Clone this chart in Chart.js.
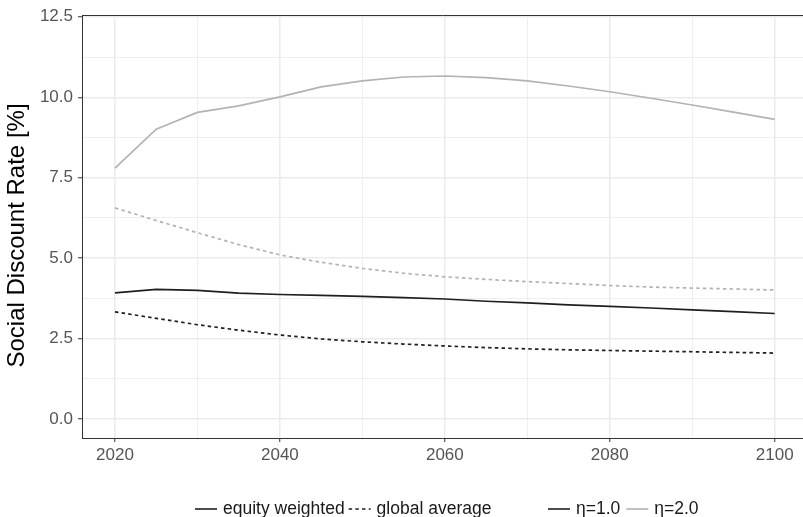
<!DOCTYPE html>
<html>
<head>
<meta charset="utf-8">
<script src="https://cdn.jsdelivr.net/npm/chart.js@4/dist/chart.umd.min.js"></script>
<style>
  html, body { margin: 0; padding: 0; background: #fff; overflow: hidden; }
  #wrap { width: 803px; height: 517px; position: relative; }
</style>
</head>
<body>
<div id="wrap"><canvas id="c"></canvas></div>
<script>
// ---- data ----
const years = [2020, 2025, 2030, 2035, 2040, 2045, 2050, 2055, 2060, 2065, 2070, 2075, 2080, 2085, 2090, 2095, 2100];
const equityWeightedEta1 = [3.92, 4.03, 4.00, 3.91, 3.87, 3.84, 3.81, 3.77, 3.73, 3.66, 3.61, 3.55, 3.50, 3.45, 3.39, 3.34, 3.28];
const globalAverageEta1  = [3.33, 3.13, 2.93, 2.76, 2.61, 2.49, 2.40, 2.33, 2.27, 2.22, 2.18, 2.15, 2.13, 2.11, 2.09, 2.07, 2.05];
const equityWeightedEta2 = [7.80, 9.01, 9.53, 9.73, 10.01, 10.32, 10.51, 10.63, 10.66, 10.61, 10.51, 10.35, 10.17, 9.97, 9.76, 9.54, 9.31];
const globalAverageEta2  = [6.56, 6.17, 5.79, 5.42, 5.10, 4.87, 4.68, 4.53, 4.42, 4.34, 4.27, 4.21, 4.15, 4.10, 4.07, 4.04, 4.01];

const xMajorTicks = [2020, 2040, 2060, 2080, 2100];
const xMinorTicks = [2030, 2050, 2070, 2090];
const yMajorTicks = [0, 2.5, 5, 7.5, 10, 12.5];
const yMinorTicks = [1.25, 3.75, 6.25, 8.75, 11.25];

const yTitle = 'Social Discount Rate [%]';
const linetypeLegend = ['equity weighted', 'global average'];
const colorLegend = ['η=1.0', 'η=2.0'];

// ---- styles ----
const DARK = '#1f1f1f';
const LIGHT = '#b3b3b3';
const DOT = [3.5, 3.2];
const FONT = '"Liberation Sans", Arial, Helvetica, sans-serif';

const toPts = arr => years.map((yr, i) => ({ x: yr, y: arr[i] }));

function mkTicks(major, minor) {
  return [...major, ...minor].sort((a, b) => a - b).map(v => ({ value: v }));
}
const isMajor = (list, v) => list.some(m => Math.abs(m - v) < 1e-9);

const topBorder = {
  id: 'topBorder',
  afterDraw(chart) {
    const { ctx, chartArea } = chart;
    ctx.save();
    ctx.strokeStyle = '#333333';
    ctx.lineWidth = 1;
    ctx.beginPath();
    ctx.moveTo(chartArea.left, Math.round(chartArea.top) + 0.5);
    ctx.lineTo(chartArea.right, Math.round(chartArea.top) + 0.5);
    ctx.stroke();
    ctx.restore();
  }
};

const yTitlePlugin = {
  id: 'yTitlePlugin',
  afterDraw(chart) {
    const { ctx } = chart;
    ctx.save();
    ctx.translate(17, 235.5);
    ctx.rotate(-Math.PI / 2);
    ctx.font = '24px ' + FONT;
    ctx.fillStyle = '#000000';
    ctx.textAlign = 'center';
    ctx.textBaseline = 'middle';
    ctx.fillText(yTitle, 0, 0);
    ctx.restore();
  }
};

const customLegend = {
  id: 'customLegend',
  afterDraw(chart) {
    const { ctx } = chart;
    ctx.save();
    ctx.font = '17.5px ' + FONT;
    ctx.fillStyle = '#1a1a1a';
    ctx.textBaseline = 'middle';
    ctx.textAlign = 'left';
    const y = 509;
    const lineLen = 22, gapAfterLine = 6, gapAfterText = 4;
    function item(x, color, dash, label) {
      ctx.save();
      ctx.strokeStyle = color;
      ctx.lineWidth = 1.6;
      ctx.setLineDash(dash);
      ctx.beginPath();
      ctx.moveTo(x, y);
      ctx.lineTo(x + lineLen, y);
      ctx.stroke();
      ctx.restore();
      const tx = x + lineLen + gapAfterLine;
      ctx.fillText(label, tx, y);
      return tx + ctx.measureText(label).width + gapAfterText;
    }
    let x = 195;
    x = item(x, DARK, [], linetypeLegend[0]);
    item(x, DARK, DOT, linetypeLegend[1]);
    x = 548;
    x = item(x, DARK, [], colorLegend[0]);
    item(x + 2, LIGHT, [], colorLegend[1]);
    ctx.restore();
  }
};

const common = { fill: false, pointRadius: 0, pointHoverRadius: 0, borderWidth: 1.7, tension: 0 };

new Chart(document.getElementById('c'), {
  type: 'line',
  data: {
    datasets: [
      { ...common, label: 'equity weighted η=2.0', data: toPts(equityWeightedEta2), borderColor: LIGHT },
      { ...common, label: 'global average η=2.0', data: toPts(globalAverageEta2), borderColor: LIGHT, borderDash: DOT },
      { ...common, label: 'equity weighted η=1.0', data: toPts(equityWeightedEta1), borderColor: DARK },
      { ...common, label: 'global average η=1.0', data: toPts(globalAverageEta1), borderColor: DARK, borderDash: DOT }
    ]
  },
  options: {
    responsive: true,
    maintainAspectRatio: false,
    animation: false,
    devicePixelRatio: 1,
    layout: { padding: { top: 15, left: 0, right: 0, bottom: 49 } },
    plugins: { legend: { display: false }, tooltip: { enabled: false } },
    events: [],
    scales: {
      x: {
        type: 'linear',
        min: 2016,
        max: 2103.43,
        afterBuildTicks: s => { s.ticks = mkTicks(xMajorTicks, xMinorTicks); },
        afterFit: s => { s.height = 30; },
        ticks: {
          autoSkip: false,
          maxRotation: 0,
          padding: 3,
          color: '#555555',
          font: { family: FONT, size: 17 },
          callback: v => isMajor(xMajorTicks, v) ? String(v) : ''
        },
        grid: {
          color: '#ebebeb',
          lineWidth: c => isMajor(xMajorTicks, c.tick.value) ? 1.5 : 0.8,
          tickColor: c => isMajor(xMajorTicks, c.tick.value) ? '#333333' : 'rgba(0,0,0,0)',
          tickLength: 4,
          tickWidth: 1
        },
        border: { display: true, color: '#333333', width: 1 }
      },
      y: {
        type: 'linear',
        min: -0.59,
        max: 12.55,
        afterBuildTicks: s => { s.ticks = mkTicks(yMajorTicks, yMinorTicks); },
        afterFit: s => { s.width = 82; },
        ticks: {
          autoSkip: false,
          padding: 5,
          color: '#555555',
          font: { family: FONT, size: 17 },
          callback: v => isMajor(yMajorTicks, v) ? v.toFixed(1) : ''
        },
        grid: {
          color: '#ebebeb',
          lineWidth: c => isMajor(yMajorTicks, c.tick.value) ? 1.5 : 0.8,
          tickColor: c => isMajor(yMajorTicks, c.tick.value) ? '#333333' : 'rgba(0,0,0,0)',
          tickLength: 4,
          tickWidth: 1
        },
        border: { display: true, color: '#333333', width: 1 },
        title: { display: false }
      }
    }
  },
  plugins: [topBorder, yTitlePlugin, customLegend]
});
</script>
</body>
</html>
